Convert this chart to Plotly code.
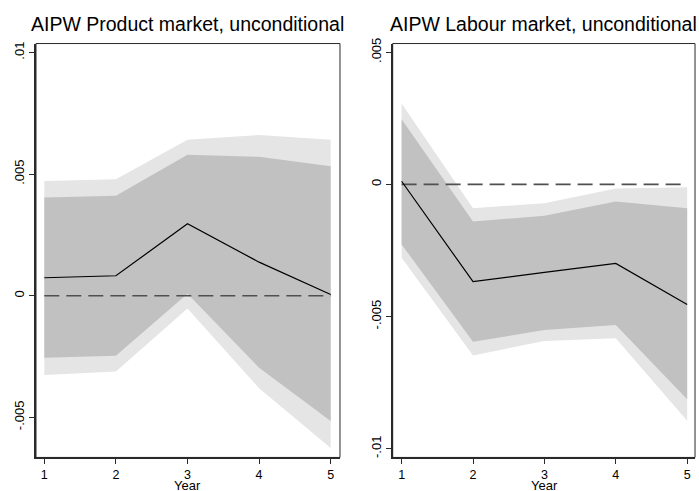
import plotly.graph_objects as go

years = [1, 2, 3, 4, 5]

# Product market (left panel)
prod_est = [0.00074, 0.00082, 0.00296, 0.00138, 0.00005]
prod_lo90 = [-0.00255, -0.00247, 0.00008, -0.00296, -0.00515]
prod_hi90 = [0.00404, 0.00411, 0.00580, 0.00571, 0.00532]
prod_lo95 = [-0.00326, -0.00312, -0.00053, -0.00380, -0.00626]
prod_hi95 = [0.00472, 0.00479, 0.00641, 0.00661, 0.00641]

# Labour market (right panel)
lab_est = [0.00012, -0.00368, -0.00333, -0.00299, -0.00454]
lab_lo90 = [-0.00227, -0.00595, -0.00551, -0.00532, -0.00813]
lab_hi90 = [0.00247, -0.00140, -0.00119, -0.00065, -0.00090]
lab_lo95 = [-0.00277, -0.00647, -0.00592, -0.00582, -0.00894]
lab_hi95 = [0.00306, -0.00090, -0.00071, -0.00015, -0.00011]

zero_x = [1, 5]
zero_y = [0, 0]

prod_ticks = [-0.005, 0, 0.005, 0.01]
prod_ticklabels = ["-.005", "0", ".005", ".01"]
lab_ticks = [-0.01, -0.005, 0, 0.005]
lab_ticklabels = ["-.01", "-.005", "0", ".005"]
x_ticks = [1, 2, 3, 4, 5]

titles = ["AIPW Product market, unconditional", "AIPW Labour market, unconditional"]
x_title = "Year"

LIGHT = "#e5e5e5"
DARK = "#c1c1c1"
FONT = "Liberation Sans, Arial, sans-serif"

fig = go.Figure()


def add_panel(xa, ya, est, lo90, hi90, lo95, hi95):
    fig.add_trace(go.Scatter(x=years, y=lo95, mode="lines", line=dict(width=0, color=LIGHT),
                             xaxis=xa, yaxis=ya, showlegend=False, hoverinfo="skip"))
    fig.add_trace(go.Scatter(x=years, y=hi95, mode="lines", line=dict(width=0, color=LIGHT),
                             fill="tonexty", fillcolor=LIGHT,
                             xaxis=xa, yaxis=ya, showlegend=False, hoverinfo="skip"))
    fig.add_trace(go.Scatter(x=years, y=lo90, mode="lines", line=dict(width=0, color=DARK),
                             xaxis=xa, yaxis=ya, showlegend=False, hoverinfo="skip"))
    fig.add_trace(go.Scatter(x=years, y=hi90, mode="lines", line=dict(width=0, color=DARK),
                             fill="tonexty", fillcolor=DARK,
                             xaxis=xa, yaxis=ya, showlegend=False, hoverinfo="skip"))
    fig.add_trace(go.Scatter(x=zero_x, y=zero_y, mode="lines",
                             line=dict(width=1.6, color="#505050", dash="15px,7px"),
                             xaxis=xa, yaxis=ya, showlegend=False, hoverinfo="skip"))
    fig.add_trace(go.Scatter(x=years, y=est, mode="lines", line=dict(width=1.2, color="black"),
                             xaxis=xa, yaxis=ya, showlegend=False))


add_panel("x", "y", prod_est, prod_lo90, prod_hi90, prod_lo95, prod_hi95)
add_panel("x2", "y2", lab_est, lab_lo90, lab_hi90, lab_lo95, lab_hi95)

ydom = [0.0692, 0.9226]
xdom1 = [0.0515, 0.4864]
xdom2 = [0.5618, 0.9943]

axis_common = dict(showgrid=False, zeroline=False, showline=True, linecolor="#2a2a2a",
                   linewidth=1.6, ticks="outside", ticklen=5, tickwidth=1, tickcolor="#2a2a2a")
xfont = dict(family=FONT, size=12.5, color="black")
yfont = dict(family=FONT, size=13, color="black")

fig.update_layout(
    width=699, height=491,
    margin=dict(l=0, r=0, t=0, b=0),
    paper_bgcolor="white", plot_bgcolor="white",
    font=dict(family=FONT, color="black"),
    xaxis=dict(domain=xdom1, range=[0.884, 5.13], anchor="y", tickvals=x_ticks,
               ticktext=[str(v) for v in x_ticks], tickfont=xfont, **axis_common),
    yaxis=dict(domain=ydom, range=[-0.00665, 0.01037], anchor="x", tickvals=prod_ticks,
               ticktext=prod_ticklabels, tickangle=-90, tickfont=yfont, **axis_common),
    xaxis2=dict(domain=xdom2, range=[0.875, 5.11], anchor="y2", tickvals=x_ticks,
                ticktext=[str(v) for v in x_ticks], tickfont=xfont, **axis_common),
    yaxis2=dict(domain=ydom, range=[-0.01033, 0.00533], anchor="x2", tickvals=lab_ticks,
                ticktext=lab_ticklabels, tickangle=-90, tickfont=yfont, **axis_common),
    shapes=[
        dict(type="rect", xref="paper", yref="paper", x0=xdom1[0], x1=xdom1[1], y0=ydom[0], y1=ydom[1],
             line=dict(color="#2a2a2a", width=1), layer="above"),
        dict(type="rect", xref="paper", yref="paper", x0=xdom2[0], x1=xdom2[1], y0=ydom[0], y1=ydom[1],
             line=dict(color="#2a2a2a", width=1), layer="above"),
    ],
    annotations=[
        dict(text=titles[0], xref="paper", yref="paper", x=(xdom1[0] + xdom1[1]) / 2, y=1 - 18 / 491,
             xanchor="center", yanchor="middle", showarrow=False, font=dict(family=FONT, size=19.5)),
        dict(text=titles[1], xref="paper", yref="paper", x=(xdom2[0] + xdom2[1]) / 2, y=1 - 18 / 491,
             xanchor="center", yanchor="middle", showarrow=False, font=dict(family=FONT, size=19.5)),
        dict(text=x_title, xref="x", yref="paper", x=3, y=0, borderpad=0, yshift=-3,
             xanchor="center", yanchor="bottom", showarrow=False, font=dict(family=FONT, size=13)),
        dict(text=x_title, xref="x2", yref="paper", x=3, y=0, borderpad=0, yshift=-3,
             xanchor="center", yanchor="bottom", showarrow=False, font=dict(family=FONT, size=13)),
    ],
)

fig.write_html("out.html", config={"displayModeBar": False},
               post_script="document.body.style.margin='0';document.body.style.padding='0';")
